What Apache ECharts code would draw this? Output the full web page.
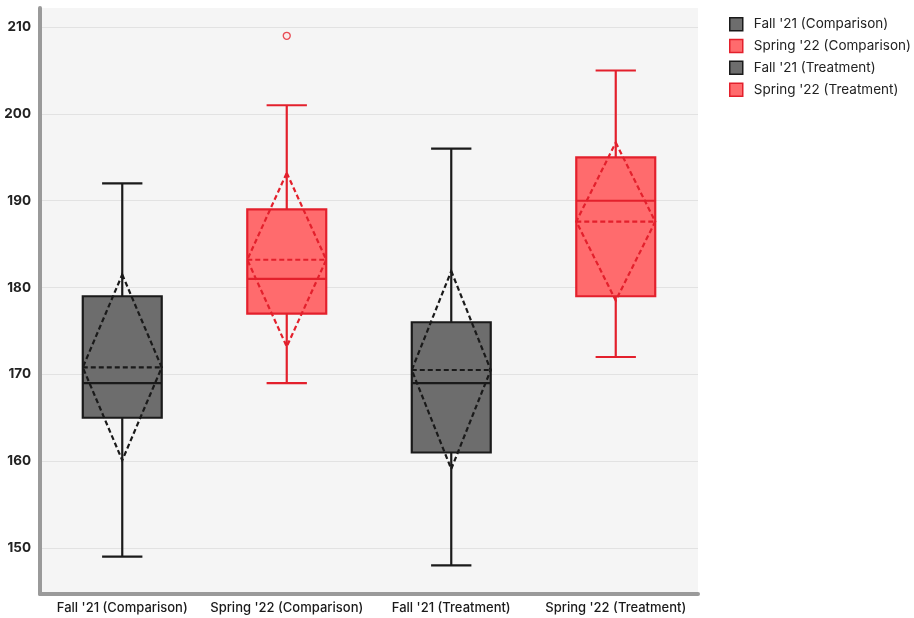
<!DOCTYPE html>
<html>
<head>
<meta charset="utf-8">
<script src="https://cdn.jsdelivr.net/npm/echarts@6/dist/echarts.min.js"></script>
<style>
  html, body { margin: 0; padding: 0; background: #ffffff; }
  #chart { width: 914px; height: 618px; }
</style>
</head>
<body>
<div id="chart"></div>
<script>
// Box plot summaries for the four groups
const categories = ["Fall '21 (Comparison)", "Spring '22 (Comparison)", "Fall '21 (Treatment)", "Spring '22 (Treatment)"];
const whiskerLow = [149, 169, 148, 172];
const q1 = [165, 177, 161, 179];
const median = [169, 181, 169, 190];
const q3 = [179, 189, 176, 195];
const whiskerHigh = [192, 201, 196, 205];
const means = [170.8, 183.2, 170.5, 187.6];
const sds = [10.7, 10.0, 11.4, 9.1];
// Points beyond the whiskers: [category index, value]
const outliers = [[1, 209]];
const yTicks = [150, 160, 170, 180, 190, 200, 210];

const fills = ['#6d6d6d', '#ff6b6d', '#6d6d6d', '#ff6b6d'];
const strokes = ['#1a1a1a', '#e3202c', '#1a1a1a', '#e3202c'];

const FONT = 'Inter, "Noto Sans", sans-serif';

function renderBox(params, api) {
  const idx = api.value(0);
  const band = api.size([1, 0])[0];
  const bw = band * 0.48;
  const cw = band * 0.245;
  const pt = (v) => api.coord([idx, v]);
  const cx = pt(api.value(3))[0];
  const yLow = pt(api.value(1))[1];
  const yQ1 = pt(api.value(2))[1];
  const yMed = pt(api.value(3))[1];
  const yQ3 = pt(api.value(4))[1];
  const yHigh = pt(api.value(5))[1];
  const m = api.value(6), s = api.value(7);
  const yMean = pt(m)[1];
  const yTop = pt(m + s)[1];
  const yBot = pt(m - s)[1];
  const fill = fills[idx], stroke = strokes[idx];
  const solid = { stroke: stroke, lineWidth: 2.2, fill: null };
  const dashed = { stroke: stroke, lineWidth: 2.2, fill: null, lineDash: [5, 3] };
  const line = (x1, y1, x2, y2, style) => ({ type: 'line', shape: { x1, y1, x2, y2 }, style });
  return {
    type: 'group',
    children: [
      { type: 'rect', shape: { x: cx - bw / 2, y: yQ3, width: bw, height: yQ1 - yQ3 },
        style: { fill: fill, stroke: stroke, lineWidth: 2.2 } },
      line(cx, yQ3, cx, yHigh, solid),
      line(cx, yQ1, cx, yLow, solid),
      line(cx - cw / 2, yHigh, cx + cw / 2, yHigh, solid),
      line(cx - cw / 2, yLow, cx + cw / 2, yLow, solid),
      line(cx - bw / 2, yMed, cx + bw / 2, yMed, solid),
      line(cx - bw / 2, yMean, cx + bw / 2, yMean, dashed),
      { type: 'polygon',
        shape: { points: [[cx, yTop], [cx + bw / 2, yMean], [cx, yBot], [cx - bw / 2, yMean]] },
        style: dashed }
    ]
  };
}

const series = categories.map((name, i) => ({
  name: name,
  type: 'custom',
  renderItem: renderBox,
  itemStyle: { color: fills[i], borderColor: strokes[i] },
  encode: { x: 0, y: [1, 2, 3, 4, 5] },
  data: [[i, whiskerLow[i], q1[i], median[i], q3[i], whiskerHigh[i], means[i], sds[i]]],
  z: 3
}));

series.push({
  name: 'outliers',
  type: 'scatter',
  symbol: 'circle',
  symbolSize: 7,
  itemStyle: { color: '#fbe9e9', borderColor: '#e3202c', borderWidth: 1.3 },
  data: outliers,
  z: 4
});

const chart = echarts.init(document.getElementById('chart'), null, { renderer: 'canvas' });
chart.setOption({
  animation: false,
  backgroundColor: '#ffffff',
  grid: {
    left: 40, right: 216, top: 8, bottom: 24,
    show: true, backgroundColor: '#f5f5f5', borderWidth: 0
  },
  legend: {
    left: 724, top: 12,
    orient: 'vertical',
    itemWidth: 13, itemHeight: 13, itemGap: 7.3,
    icon: 'rect',
    textStyle: { fontFamily: FONT, fontSize: 13.5, color: '#222', padding: [0, 0, 0, 6] },
    data: categories.map((n, i) => ({
      name: n,
      itemStyle: { color: fills[i], borderColor: strokes[i], borderWidth: 1.5 }
    }))
  },
  xAxis: {
    type: 'category',
    data: categories,
    boundaryGap: true,
    axisLine: { show: true, lineStyle: { color: '#9a9a9a', width: 4 } },
    axisTick: { show: false },
    splitLine: { show: false },
    axisLabel: { fontFamily: FONT, fontSize: 13, fontWeight: 500, color: '#1a1a1a', margin: 8, interval: 0 }
  },
  yAxis: {
    type: 'value',
    min: 144.7, max: 212.2,
    axisLine: { show: true, lineStyle: { color: '#9a9a9a', width: 4 } },
    axisTick: { show: false, customValues: yTicks },
    axisLabel: { customValues: yTicks, fontFamily: FONT, fontSize: 13.5, fontWeight: 700, color: '#222', margin: 9 },
    splitLine: { show: true, lineStyle: { color: '#e2e2e2', width: 1 } }
  },
  series: series
});
</script>
</body>
</html>
